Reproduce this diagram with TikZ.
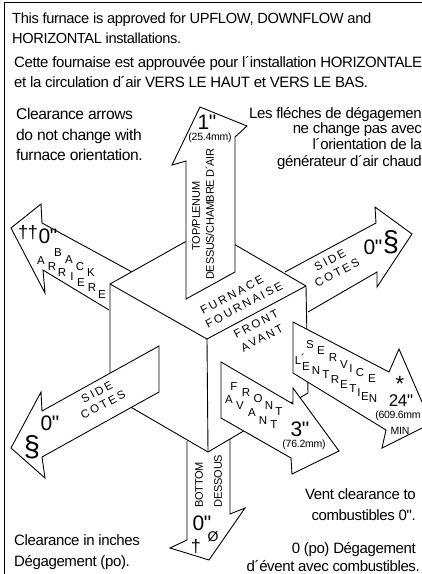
\documentclass[tikz,border=0pt]{standalone}
\usepackage{fontspec}
\setmainfont{Liberation Sans}
\newfontfamily\tightfont[LetterSpace=-2.5]{Liberation Sans}
\newfontfamily\wideA[LetterSpace=20]{Liberation Sans}
\newcommand{\textSize}{\fontsize{15}{16}\tightfont}
\newcommand{\numSize}{\fontsize{21}{21}\tightfont}
\newcommand{\mmSize}{\fontsize{10.5}{12}\tightfont}
\newcommand{\capSize}{\fontsize{11}{12}\tightfont}
\newcommand{\ltrSize}{\fontsize{11.5}{12}\selectfont}
\newcommand{\spcSize}{\fontsize{11.5}{12}\wideA}
\tikzset{
  arrowbox/.style={draw,fill=white,line width=0.9pt,line join=miter},
  cubeedge/.style={draw,line width=0.9pt},
  txtleft/.style={font=\textSize,anchor=base west,inner sep=0pt},
  txtright/.style={font=\textSize,anchor=base east,inner sep=0pt},
  txtbig/.style={font=\fontsize{15.6}{16}\tightfont},
  numlabel/.style={font=\numSize,inner sep=0pt},
  mmlabel/.style={font=\mmSize,inner sep=0pt},
  caplabel/.style={font=\capSize,inner sep=0pt,rotate=90},
  ltr/.style={font=\ltrSize,inner sep=0pt},
  spcd/.style={font=\spcSize,inner sep=0pt,rotate=28},
  symb/.style={font=\fontsize{29}{29}\selectfont,inner sep=0pt}
}
\begin{document}
\begin{tikzpicture}[x=1pt,y=-1pt]
  \useasboundingbox (0,0) rectangle (422,574);
  \draw[line width=1pt] (4,574) -- (4,2) -- (422,2);

  \node (intro1) [txtleft,font=\fontsize{14.7}{16}\tightfont] at (12,23) {This furnace is approved for UPFLOW, DOWNFLOW and};
  \node (intro2) [txtleft,font=\fontsize{14.6}{16}\tightfont] at (12,43) {HORIZONTAL installations.};
  \node (intro3) [txtleft] at (14,67) {Cette fournaise est approuvée pour l´installation HORIZONTALE};
  \node (intro4) [txtleft] at (14,87) {et la circulation d´air VERS LE HAUT et VERS LE BAS.};

  \node (arrows1) [txtleft,txtbig] at (16,119) {Clearance arrows};
  \node (arrows2) [txtleft,txtbig] at (16,140) {do not change with};
  \node (arrows3) [txtleft,txtbig] at (16,160) {furnace orientation.};

  \node (fleches1) [txtright] at (422,118) {Les fléches de dégagemen};
  \node (fleches2) [txtright] at (422,133) {ne change pas avec};
  \node (fleches3) [txtright] at (422,149) {l´orientation de la};
  \node (fleches4) [txtright] at (422,166) {générateur d´air chaud};

  \node (inches1) [txtleft] at (14,545) {Clearance in inches};
  \node (inches2) [txtleft] at (14,566) {Dégagement (po).};

  \node (vent1) [txtright] at (416,499) {Vent clearance to};
  \node (vent2) [txtright] at (416,520) {combustibles 0".};
  \node (vent3) [txtright] at (416,553) {0 (po) Dégagement};
  \node (vent4) [txtright] at (420,571) {d´évent avec combustibles.};

  % arrows behind the cube
  \draw[arrowbox] (132,272) -- (42,223) -- (41,204) -- (11,228) -- (45,293) -- (43,270) -- (109,310);
  \draw[arrowbox] (285,272) -- (376,223) -- (375,207) -- (412,234) -- (377,287) -- (377,272) -- (308,312);
  \draw[arrowbox] (187,441) -- (187,540) -- (170,548) -- (209,560) -- (245,508) -- (230,514) -- (230,439);

  % cube
  \draw[cubeedge,fill=white] (110,284) -- (208,229) -- (306,286) -- (308,393) -- (208,452) -- (110,395) -- cycle;
  \draw[cubeedge] (110,284) -- (207,339) -- (306,286);
  \draw[cubeedge] (207,339) -- (208,452);

  % arrows in front of the cube
  \draw[arrowbox] (186,299) -- (186,161) -- (172,165) -- (200,107) -- (247,126) -- (235,137) -- (235,272) -- cycle;
  \draw[arrowbox] (159,346) -- (42,411) -- (41,392) -- (11,448) -- (45,478) -- (42,457) -- (159,392) -- cycle;
  \draw[arrowbox] (221,362) -- (293,404) -- (293,388) -- (339,451) -- (292,474) -- (291,458) -- (221,418) -- cycle;
  \draw[arrowbox] (422,402) -- (399,349) -- (389,372) -- (293,322) -- (293,373) -- (386,430) -- (382,448) -- (422,428);

  \node (one) [numlabel] at (207,122) {1"};
  \node (oneMM) [mmlabel] at (210,138) {(25.4mm)};
  \node (topA) [caplabel] at (196,216) {TOP/PLENUM};
  \node (topB) [caplabel] at (210,214) {DESSUS/CHAMBRE D´AIR};

  \node (dagTwo) [font=\fontsize{18}{18}\tightfont,inner sep=0pt] at (28,233) {††};
  \node (backZero) [numlabel] at (48,236) {0"};
  \foreach \c/\x/\y [count=\i] in {B/58/253,A/69/260,C/80/267,K/91/273}
  {
    \node (back\i) [ltr] at (\x,\y) {\c};
  }
  \foreach \c/\x/\y [count=\i] in {A/41/261,R/52/267,R/62/273,I/72/277,E/81/283,R/92/288,E/102/295}
  {
    \node (arriere\i) [ltr] at (\x,\y) {\c};
  }

  \node (sideR) [spcd] at (330,260) {SIDE};
  \node (coteR) [spcd] at (337,273) {COTES};
  \node (sideRZero) [numlabel] at (373,247) {0"};
  \node (sideRSec) [symb] at (391,242) {§};

  \node (sideL) [spcd] at (97,392) {SIDE};
  \node (coteL) [spcd] at (103,405) {COTES};
  \node (sideLZero) [numlabel] at (50,423) {0"};
  \node (sideLSec) [symb] at (32,447) {§};

  \node (furnace) [spcd] at (232,295) {FURNACE};
  \node (fournaise) [spcd] at (244,305) {FOURNAISE};
  \node (frontTop) [spcd] at (256,324) {FRONT};
  \node (avantTop) [spcd] at (262,338) {AVANT};

  \foreach \c/\x/\y [count=\i] in {F/234/387,R/246/393,O/258/399,N/269/406,T/279/412}
  {
    \node (front\i) [ltr] at (\x,\y) {\c};
  }
  \foreach \c/\x/\y [count=\i] in {A/229/400,V/240/406,A/252/413,N/263/421,T/274/425}
  {
    \node (avant\i) [ltr] at (\x,\y) {\c};
  }
  \node (three) [numlabel] at (300,429) {3"};
  \node (threeMM) [mmlabel] at (304,445) {(76.2mm)};

  \foreach \c/\x/\y [count=\i] in {S/310/345,E/321/351,R/333/358,V/344/365,I/351/369,C/360/373,E/372/379}
  {
    \node (service\i) [ltr] at (\x,\y) {\c};
  }
  \foreach \c/\x/\y [count=\i] in {L/298/361,´/303/358,E/306/367,N/316/371,T/326/375,R/335/380,E/344/385,T/353/389,I/359/393,E/365/397,N/373/399}
  {
    \node (entretien\i) [ltr] at (\x,\y) {\c};
  }
  \node (star) [font=\fontsize{22}{22}\selectfont,inner sep=0pt] at (400,384) {*};
  \node (twofour) [numlabel,font=\fontsize{17}{17}\tightfont] at (401,401) {24"};
  \node (twofourMM) [mmlabel] at (398,416) {(609.6mm};
  \node (minim) [mmlabel] at (400,431) {MIN};

  \node (bottomA) [caplabel] at (199,485) {BOTTOM};
  \node (bottomB) [caplabel] at (218,481) {DESSOUS};
  \node (bottomZero) [numlabel] at (202,523) {0"};
  \node (bottomDag) [font=\fontsize{18}{18}\selectfont,inner sep=0pt] at (196,547) {†};
  \node (bottomOslash) [font=\fontsize{14}{14}\selectfont,inner sep=0pt] at (213,537) {Ø};
\end{tikzpicture}
\end{document}
